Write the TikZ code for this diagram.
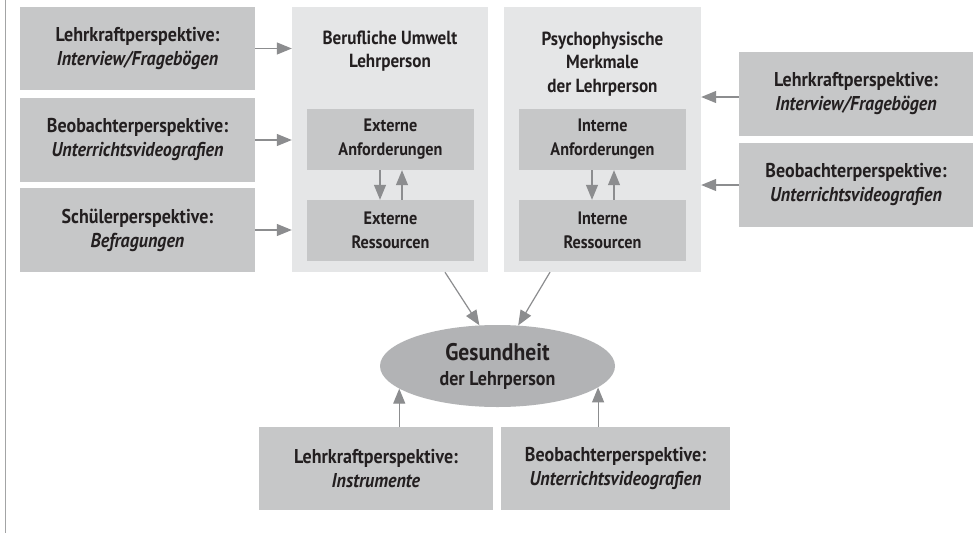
\documentclass[tikz,border=0pt]{standalone}
\usepackage{fontspec}
\setmainfont{PT Sans}[FakeStretch=0.9]
\usetikzlibrary{arrows.meta,shapes.geometric}
\definecolor{boxgray}{HTML}{C6C7C8}
\definecolor{contgray}{HTML}{E5E6E7}
\definecolor{ellgray}{HTML}{B2B3B5}
\definecolor{arrgray}{HTML}{8C8D8F}
\definecolor{txt}{HTML}{231F20}
\tikzset{
  pbox/.style={fill=boxgray, draw=none, inner sep=0pt, text=txt, align=center,
    font=\bfseries\fontsize{20}{24}\selectfont},
  cont/.style={fill=contgray, draw=none, inner sep=0pt},
  ibox/.style={fill=boxgray, draw=none, inner sep=0pt, text=txt, align=center,
    minimum width=167pt, minimum height=61pt,
    font=\bfseries\fontsize{18}{24}\selectfont},
  ttl/.style={text=txt, align=center, inner sep=0pt,
    font=\bfseries\fontsize{19}{23.5}\selectfont},
  arr/.style={draw=arrgray, line width=1.2pt, -{Triangle[length=15pt,width=12pt]}},
}
\begin{document}
\begin{tikzpicture}[x=1pt,y=-1pt]
\useasboundingbox (0,0) rectangle (980,533);
\fill[white] (0,0) rectangle (980,533);
\draw[draw=arrgray!80, line width=1.5pt] (5.5,0) -- (5.5,533);

% left perspective boxes
\node[pbox, minimum width=235pt, minimum height=83pt] (lb1) at (137.5,48.5) {Lehrkraftperspektive:\\\textit{Interview/Fragebögen}};
\node[pbox, minimum width=235pt, minimum height=84pt] (lb2) at (137.5,140) {Beobachterperspektive:\\\textit{Unterrichtsvideografien}};
\node[pbox, minimum width=235pt, minimum height=84pt] (lb3) at (137.5,230) {Schülerperspektive:\\\textit{Befragungen}};

% containers
\node[cont, minimum width=196pt, minimum height=265pt] (cl) at (390,139.5) {};
\node[cont, minimum width=197pt, minimum height=265pt] (cr) at (602.5,139.5) {};
\node[ttl] (tl) at (390,51) {Berufliche Umwelt\\Lehrperson};
\node[ttl] (tr) at (602.5,64) {Psychophysische\\Merkmale\\der Lehrperson};

% inner boxes
\node[ibox] (ea) at (390.5,139.5) {Externe\\Anforderungen};
\node[ibox] (er) at (390.5,230.5) {Externe\\Ressourcen};
\node[ibox] (ia) at (602.5,139.5) {Interne\\Anforderungen};
\node[ibox] (ir) at (602.5,230.5) {Interne\\Ressourcen};

% right perspective boxes
\node[pbox, minimum width=234pt, minimum height=84pt] (rb1) at (856,94) {Lehrkraftperspektive:\\\textit{Interview/Fragebögen}};
\node[pbox, minimum width=234pt, minimum height=84pt] (rb2) at (856,185) {Beobachterperspektive:\\\textit{Unterrichtsvideografien}};

% ellipse
\node[ellipse, fill=ellgray, draw=none, inner sep=0pt, minimum width=235pt, minimum height=82pt, text=txt, align=center,
  font=\bfseries\fontsize{20}{25}\selectfont] (g) at (497.5,366)
  {{\fontsize{24}{25}\selectfont Gesundheit}\\der Lehrperson};

% bottom boxes
\node[pbox, minimum width=234pt, minimum height=83pt] (bb1) at (376,468.5) {Lehrkraftperspektive:\\\textit{Instrumente}};
\node[pbox, minimum width=229pt, minimum height=83pt] (bb2) at (615.5,468.5) {Beobachterperspektive:\\\textit{Unterrichtsvideografien}};

% arrows left -> container
\draw[arr] (lb1.east) -- (lb1.east -| cl.west);
\draw[arr] (lb2.east) -- (lb2.east -| cl.west);
\draw[arr] (lb3.east) -- (lb3.east -| cl.west);

% arrows right -> container
\draw[arr] ([yshift=-3pt]rb1.west) -- ([yshift=-3pt]rb1.west -| cr.east);
\draw[arr] (rb2.west) -- (rb2.west -| cr.east);

% inner arrows
\draw[arr] ([xshift=-10.5pt]ea.south) -- ([xshift=-10.5pt]er.north);
\draw[arr] ([xshift=11.5pt]er.north) -- ([xshift=11.5pt]ea.south);
\draw[arr] ([xshift=-10.5pt]ia.south) -- ([xshift=-10.5pt]ir.north);
\draw[arr] ([xshift=11.5pt]ir.north) -- ([xshift=11.5pt]ia.south);

% containers -> ellipse
\draw[arr] ([xshift=55pt]cl.south) -- (g.114);
\draw[arr] ([xshift=-52.5pt]cr.south) -- (g.63);

% bottom -> ellipse
\draw[arr] (g.193 |- bb1.north) -- (g.193);
\draw[arr] (g.-12.4 |- bb2.north) -- (g.-12.4);
\end{tikzpicture}
\end{document}
